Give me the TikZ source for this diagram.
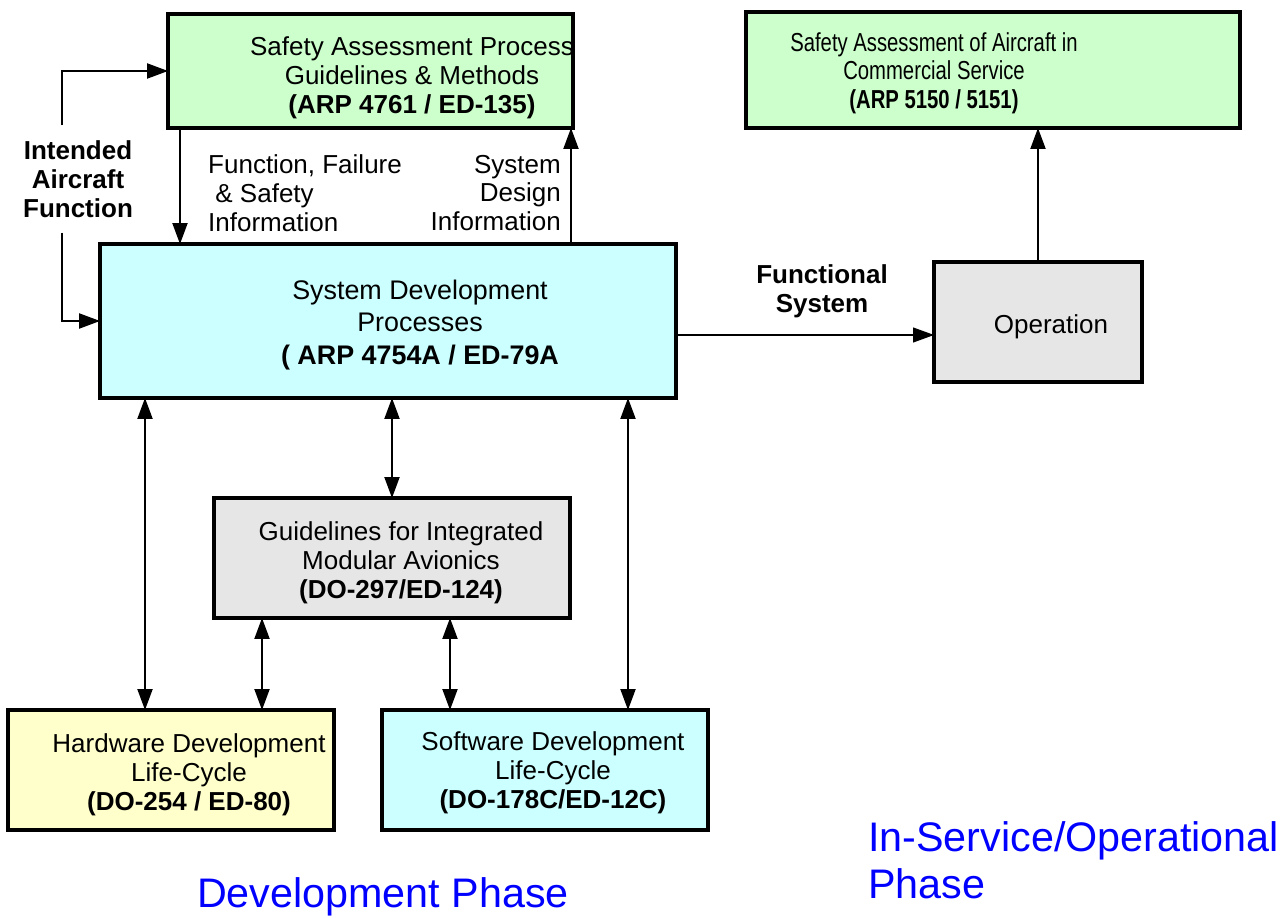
\documentclass[tikz,border=0pt]{standalone}
\usepackage{fontspec}
\usepackage{graphicx}
\setmainfont{Liberation Sans}
\newcommand{\narrowline}[1]{\scalebox{0.78}[1]{#1}}
\usetikzlibrary{arrows.meta,positioning,calc}

\definecolor{safegreen}{HTML}{CCFFCC}
\definecolor{devcyan}{HTML}{CCFFFF}
\definecolor{imagray}{HTML}{E6E6E6}
\definecolor{hwyellow}{HTML}{FFFFCC}
\definecolor{phaseblue}{HTML}{0000FF}

\begin{document}
\begin{tikzpicture}[
    x=0.02cm, y=-0.02cm,
    box/.style={draw, line width=2.7pt, inner sep=0pt, outer sep=0pt},
    txt/.style={align=center, font=\fontsize{14.8}{16.4}\selectfont},
    lbl/.style={font=\fontsize{14.8}{16.4}\selectfont},
    bold/.style={font=\fontsize{14.8}{16.4}\selectfont\bfseries},
    tip/.style={-{Triangle[length=0.42cm, width=0.3cm]}, line width=1.2pt},
    dbltip/.style={{Triangle[length=0.42cm, width=0.3cm]}-{Triangle[length=0.42cm, width=0.3cm]}, line width=1.2pt},
    phase/.style={phaseblue, font=\fontsize{23.5}{27}\selectfont},
]
\useasboundingbox (0,0) rectangle (1286,918);

% === Safety assessment process ===
\node[box, fill=safegreen, minimum width=8.1cm, minimum height=2.28cm] (sap) at (370.5,71) {};
\node[txt] (sapT) at (412,78) {Safety Assessment Process\\Guidelines \& Methods\\\textbf{(ARP 4761 / ED-135)}};

% === Safety assessment in service ===
\node[box, fill=safegreen, minimum width=9.88cm, minimum height=2.32cm] (sac) at (993,70) {};
\node[txt, font=\fontsize{14.8}{16.2}\selectfont] (sacT) at (934,73) {\narrowline{Safety Assessment of Aircraft in}\\\narrowline{Commercial Service}\\\narrowline{\textbf{(ARP 5150 / 5151)}}};

% === System development ===
\node[box, fill=devcyan, minimum width=11.52cm, minimum height=3.08cm] (sdp) at (388,321) {};
\node[txt, font=\fontsize{15.3}{18.7}\selectfont] (sdpT) at (420,325) {System Development\\Processes\\\textbf{( ARP 4754A / ED-79A}};

% === Operation ===
\node[box, fill=imagray, minimum width=4.16cm, minimum height=2.4cm] (op) at (1038,322) {};
\node[lbl] (opT) at (1051,327) {Operation};

% === IMA ===
\node[box, fill=imagray, minimum width=7.12cm, minimum height=2.4cm] (ima) at (392,558) {};
\node[txt] (imaT) at (401,563) {Guidelines for Integrated\\Modular Avionics\\\textbf{(DO-297/ED-124)}};

% === Hardware / software ===
\node[box, fill=hwyellow, minimum width=6.52cm, minimum height=2.4cm] (hw) at (171,770) {};
\node[txt] (hwT) at (189,775) {Hardware Development\\Life-Cycle\\\textbf{(DO-254 / ED-80)}};

\node[box, fill=devcyan, minimum width=6.52cm, minimum height=2.4cm] (sw) at (545,770) {};
\node[txt] (swT) at (553,773) {Software Development\\Life-Cycle\\\textbf{(DO-178C/ED-12C)}};

% === Labels ===
\node[bold, align=center, inner ysep=0.3cm] (iaf) at (78,179) {Intended\\Aircraft\\Function};
\node[lbl, align=left, anchor=west] (ffs) at (202,193) {Function, Failure\\\ \& Safety\\Information};
\node[lbl, align=right, anchor=east] (sdi) at (567,193) {System\\Design\\Information};
\node[bold, align=center] (fsys) at (822,291) {Functional\\System};

% === Phases ===
\node[phase, align=left, anchor=west] (opph) at (862,860) {In-Service/Operational\\Phase};
\node[phase] (devph) at (383,897) {Development Phase};

% === Connectors ===
\path (62,0) coordinate (xiaf) (180,0) coordinate (xdown) (571,0) coordinate (xup)
      (145,0) coordinate (xhw) (628,0) coordinate (xsw)
      (262,0) coordinate (ximahw) (450,0) coordinate (ximasw);

\draw[tip] (iaf.north -| xiaf) |- (sap.west);
\draw[tip] (iaf.south -| xiaf) |- (sdp.west);

\draw[tip] (sap.south -| xdown) -- (sdp.north -| xdown);
\draw[tip] (sdp.north -| xup) -- (sap.south -| xup);
\draw[tip] (op.north) -- (op.north |- sac.south);

\coordinate (fsout) at ([yshift=-0.28cm]sdp.east);
\draw[tip, line width=0.6pt] (fsout) -- (fsout -| op.west);

\draw[dbltip] (sdp.south -| xhw) -- (hw.north -| xhw);
\draw[dbltip] (ima.north |- sdp.south) -- (ima.north);
\draw[dbltip] (sdp.south -| xsw) -- (sw.north -| xsw);
\draw[dbltip] (ima.south -| ximahw) -- (hw.north -| ximahw);
\draw[dbltip] (ima.south -| ximasw) -- (sw.north -| ximasw);

\end{tikzpicture}
\end{document}
